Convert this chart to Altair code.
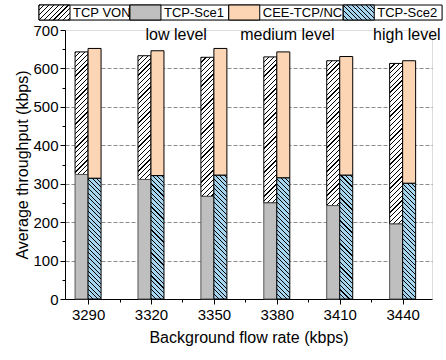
import math
import altair as alt
import pandas as pd

# ---------------- data ----------------
rates = [3290, 3320, 3350, 3380, 3410, 3440]
tcp_von = [643, 633, 629, 630, 620, 613]
tcp_sce1 = [324, 311, 267, 250, 243, 195]
cee_tcp_nc = [652, 646, 652, 643, 631, 620]
tcp_sce2 = [314, 321, 322, 315, 322, 301]

series_names = ["TCP VON", "TCP-Sce1", "CEE-TCP/NC", "TCP-Sce2"]

annot_labels = ["low level", "medium level", "high level"]
annot_rates = [3332, 3385, 3442]
annot_level = [673, 673, 673]

y_ticks = [0, 100, 200, 300, 400, 500, 600, 700]
y_grid = [100, 200, 300, 400, 500, 600]
y_minor = [50, 150, 250, 350, 450, 550, 650]
x_minor = [3305, 3335, 3365, 3395, 3425]

# ---------------- style ----------------
FONT = "Liberation Sans"
INK = "#000000"
WHITE = "#ffffff"
GRAY = "#bfbfbf"
PEACH = "#fcd5b4"
BLUE = "#a6d6ef"

PLOT_W = 367
PLOT_H = 269
K = PLOT_H / 700.0
BAR_W = 13


def hatch(fill, pitch, w, h, down=False, line=1.2, span=220.0):
    """Linear-gradient stripes that form 45 degree hatching inside a rect of w x h px."""
    n = int(math.ceil(span / pitch))
    L = n * pitch
    f = line / pitch
    stops = []
    for k in range(n):
        a = k / n
        b = (k + f) / n
        c = (k + 1) / n
        stops += [(a, INK), (b, INK), (b, fill), (c, fill)]
    s = ",".join("{offset:%.5f,color:'%s'}" % (o, col) for o, col in stops)
    den = "((%s)*(%s)+(%s)*(%s))" % (w, w, h, h)
    if not down:
        return ("{gradient:'linear',x1:0,y1:0,x2:%g*(%s)/%s,y2:%g*(%s)/%s,stops:[%s]}"
                % (L, w, den, L, h, den, s))
    return ("{gradient:'linear',x1:0,y1:1,x2:%g*(%s)/%s,y2:1-%g*(%s)/%s,stops:[%s]}"
            % (L, w, den, L, h, den, s))


df = pd.DataFrame({
    "rate": rates,
    "von": tcp_von,
    "sce1": tcp_sce1,
    "cee": cee_tcp_nc,
    "sce2": tcp_sce2,
})
annot = pd.DataFrame({"rate": annot_rates, "level": annot_level, "label": annot_labels})

xs = alt.Scale(domain=[3279, 3454], nice=False, zero=False, padding=0)
ys = alt.Scale(domain=[0, 700], nice=False, padding=0)

x_axis = alt.Axis(
    values=rates, format="d", tickSize=5,
    labelFontSize=15, labelPadding=3, labelFlush=False, labelFont=FONT, titleFont=FONT,
    titleFontSize=16, titleFontWeight="normal", titlePadding=7,
    grid=False, domainColor=INK, tickColor=INK, labelColor=INK, titleColor=INK,
)
y_axis = alt.Axis(
    values=y_ticks, tickSize=5,
    labelFontSize=15, labelPadding=2, labelFlush=False, labelFont=FONT, titleFont=FONT,
    titleFontSize=16, titleFontWeight="normal", titlePadding=2,
    grid=False, domainColor=INK, tickColor=INK, labelColor=INK, titleColor=INK,
)
x_minor_axis = alt.Axis(values=x_minor, orient="bottom", labels=False, tickSize=3, domain=False,
                        grid=False, title="", tickColor=INK)
y_minor_axis = alt.Axis(values=y_minor, orient="left", labels=False, tickSize=3, domain=False,
                        grid=False, title="", tickColor=INK)
y_grid_axis = alt.Axis(values=y_grid, orient="left", labels=False, ticks=False, domain=False,
                       grid=True, gridDash=[4, 2], gridColor="#8c8c8c", gridWidth=1, title="")

base = alt.Chart(df)

von_fill = hatch(WHITE, 4.8, str(BAR_W), "(datum.von-datum.sce1)*%g" % K, line=1.2)
sce2_fill = hatch(BLUE, 4.6, str(BAR_W), "datum.sce2*%g" % K, down=True, line=1.1)

von_layer = base.mark_bar(width=BAR_W, xOffset=-BAR_W / 2, stroke=INK, strokeWidth=1,
                          fill={"expr": von_fill}).encode(
    x=alt.X("rate:Q", scale=xs, axis=x_axis, title="Background flow rate (kbps)"),
    y=alt.Y("sce1:Q", scale=ys, axis=y_axis, title="Average throughput (kbps)"),
    y2="von:Q",
)
sce1_layer = base.mark_bar(width=BAR_W, xOffset=-BAR_W / 2, fill=GRAY, stroke="#555555",
                           strokeWidth=1).encode(
    x=alt.X("rate:Q", scale=xs, axis=None),
    y=alt.Y("sce1:Q", scale=ys, axis=None),
)
cee_layer = base.mark_bar(width=BAR_W, xOffset=BAR_W / 2, fill=PEACH, stroke=INK,
                          strokeWidth=1).encode(
    x=alt.X("rate:Q", scale=xs, axis=None),
    y=alt.Y("sce2:Q", scale=ys, axis=None),
    y2="cee:Q",
)
sce2_layer = base.mark_bar(width=BAR_W, xOffset=BAR_W / 2, stroke=INK, strokeWidth=1,
                           fill={"expr": sce2_fill}).encode(
    x=alt.X("rate:Q", scale=xs, axis=x_minor_axis),
    y=alt.Y("sce2:Q", scale=ys, axis=y_minor_axis),
)
text_layer = alt.Chart(annot).mark_text(fontSize=16, font=FONT, color=INK, align="center",
                                        baseline="alphabetic").encode(
    x=alt.X("rate:Q", scale=xs, axis=None),
    y=alt.Y("level:Q", scale=ys, axis=y_grid_axis),
    text="label:N",
)

main = alt.layer(von_layer, sce1_layer, cee_layer, sce2_layer, text_layer).resolve_axis(
    x="independent", y="independent"
).properties(width=PLOT_W, height=PLOT_H)

# ---------------- legend (built from the series names) ----------------
LEG_H = 15
SW = 31
CHAR_W = 7.85
PAD = 36
SHIFT = 26          # legend starts this far left of the plot area
legend_df = pd.DataFrame({"series": series_names, "order": list(range(len(series_names)))})
total_w = sum(PAD + CHAR_W * len(s) for s in series_names)

leg_hatch_w = hatch(WHITE, 4.8, str(SW), str(LEG_H), line=1.2)
leg_hatch_b = hatch(BLUE, 4.6, str(SW), str(LEG_H), down=True, line=1.1)
leg_fill = "datum.order === 0 ? %s : datum.order === 1 ? '%s' : datum.order === 2 ? '%s' : %s" % (
    leg_hatch_w, GRAY, PEACH, leg_hatch_b)

leg_base = alt.Chart(legend_df).transform_calculate(
    w="%g + %g * length(datum.series)" % (PAD, CHAR_W)
).transform_window(
    x1="sum(w)", sort=[alt.SortField("order")], frame=[None, 0]
).transform_calculate(
    x0="datum.x1 - datum.w",
    s1="datum.x1 - datum.w + %g" % SW,
    tx="datum.x1 - datum.w + %g" % (SW + 3),
)
lxs = alt.Scale(domain=[SHIFT, total_w], nice=False, zero=False)
cells = leg_base.mark_rect(fill=WHITE, stroke=INK, strokeWidth=1).encode(
    x=alt.X("x0:Q", scale=lxs, axis=None), x2="x1:Q")
swatches = leg_base.mark_rect(stroke=INK, strokeWidth=1, fill={"expr": leg_fill}).encode(
    x=alt.X("x0:Q", scale=lxs, axis=None), x2="s1:Q")
labels = leg_base.mark_text(align="left", baseline="middle", fontSize=13, font=FONT,
                            color=INK).encode(
    x=alt.X("tx:Q", scale=lxs, axis=None), text="series:N")
legend = alt.layer(cells, swatches, labels).properties(width=total_w - SHIFT, height=LEG_H)

chart = alt.vconcat(legend, main, spacing=1).properties(
    padding={"left": 14, "top": 4, "right": 0, "bottom": 0}
).configure_view(stroke=None).configure(font=FONT)

chart.save("out.html", embed_options={"renderer": "svg", "actions": False})
